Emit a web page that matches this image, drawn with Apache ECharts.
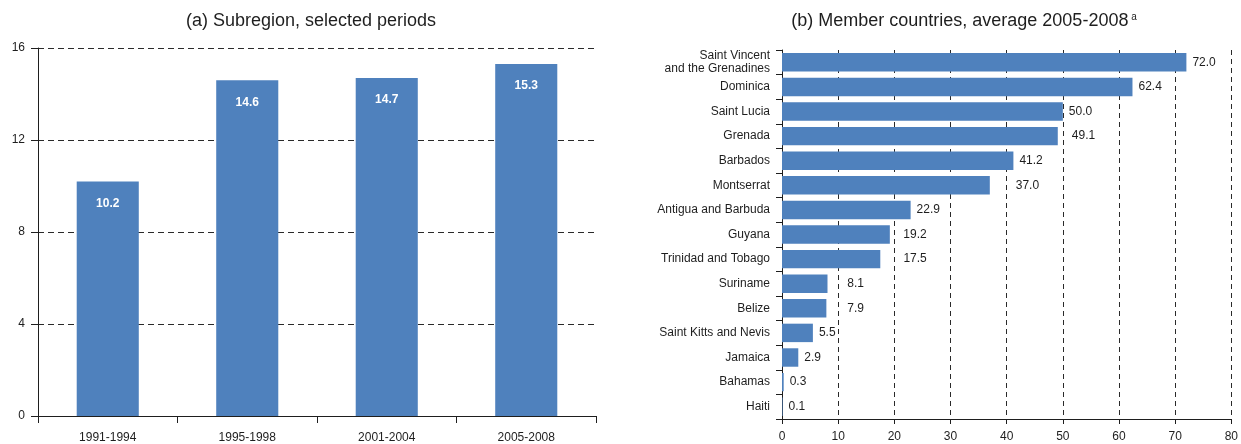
<!DOCTYPE html>
<html>
<head>
<meta charset="utf-8">
<script src="https://cdn.jsdelivr.net/npm/echarts@6/dist/echarts.min.js"></script>
<style>
  html, body { margin: 0; padding: 0; background: #fff; }
  #chart { width: 1241px; height: 444px; }
</style>
</head>
<body>
<div id="chart"></div>
<script>
// (a) Subregion, selected periods
const periods = ['1991-1994', '1995-1998', '2001-2004', '2005-2008'];
const subregionValues = [10.2, 14.6, 14.7, 15.3];
const periodTicks = [0, 4, 8, 12, 16];

// (b) Member countries, average 2005-2008
const countries = [
  'Saint Vincent\nand the Grenadines', 'Dominica', 'Saint Lucia', 'Grenada',
  'Barbados', 'Montserrat', 'Antigua and Barbuda', 'Guyana',
  'Trinidad and Tobago', 'Suriname', 'Belize', 'Saint Kitts and Nevis',
  'Jamaica', 'Bahamas', 'Haiti'
];
const countryValues = [72.0, 62.4, 50.0, 49.1, 41.2, 37.0, 22.9, 19.2, 17.5, 8.1, 7.9, 5.5, 2.9, 0.3, 0.1];
const countryTicks = [0, 10, 20, 30, 40, 50, 60, 70, 80];

const BAR = '#4f81bd';
const INK = '#1e1e1e';
const FONT = '"Liberation Sans", Arial, Helvetica, sans-serif';

// right-panel geometry, used to keep value labels clear of the dashed grid lines
const G1 = { left: 782, top: 50, width: 452, height: 369 };
const xMax = countryTicks[countryTicks.length - 1];
const xStep = countryTicks[1] - countryTicks[0];
const pxPerUnit = G1.width / xMax;

function textWidth(s) {
  // approximate advance widths at 12px
  let w = 0;
  for (const ch of s) w += (ch === '.' ? 3.34 : 6.67);
  return w;
}

function labelDistance(v) {
  const text = v.toFixed(1);
  const w = textWidth(text);
  const barEnd = v * pxPerUnit;
  let start = barEnd + 6;
  for (let g = xStep; g <= xMax; g += xStep) {
    const gx = g * pxPerUnit;
    if (gx >= start - 3 && gx <= start + w + 1) { start = gx + 9; break; }
  }
  return start - barEnd;
}

const countryData = countryValues.map(v => ({ value: v, label: { distance: labelDistance(v) } }));

const chart = echarts.init(document.getElementById('chart'), null, { renderer: 'canvas' });

chart.setOption({
  animation: false,
  textStyle: { fontFamily: FONT },
  title: [
    {
      text: '(a) Subregion, selected periods',
      left: 306, top: 7, textAlign: 'center',
      textStyle: { fontFamily: FONT, fontSize: 18, fontWeight: 'normal', color: INK }
    },
    {
      text: '(b) Member countries, average 2005-2008{sup| a}',
      left: 959, top: 7, textAlign: 'center',
      textStyle: {
        fontFamily: FONT, fontSize: 18, fontWeight: 'normal', color: INK,
        rich: { sup: { fontSize: 10, verticalAlign: 'top', padding: [0, 0, 8, 0], color: INK, fontFamily: FONT } }
      }
    }
  ],
  grid: [
    { left: 38, top: 48, width: 558, height: 369 },
    { left: G1.left, top: G1.top, width: G1.width, height: G1.height }
  ],
  xAxis: [
    {
      gridIndex: 0, type: 'category', data: periods,
      axisLine: { lineStyle: { color: INK, width: 1 } },
      axisTick: { show: true, length: 7, lineStyle: { color: INK } },
      axisLabel: { color: INK, fontSize: 12, margin: 16, fontFamily: FONT }
    },
    {
      gridIndex: 1, type: 'value', min: 0, max: xMax, interval: xStep,
      axisLine: { show: true, lineStyle: { color: INK, width: 1 } },
      axisTick: { show: true, length: 5, lineStyle: { color: INK } },
      axisLabel: { color: INK, fontSize: 12, margin: 12, fontFamily: FONT },
      splitLine: { show: true, lineStyle: { color: '#2a2a2a', type: [5, 4], width: 1 } }
    }
  ],
  yAxis: [
    {
      gridIndex: 0, type: 'value', min: periodTicks[0], max: periodTicks[periodTicks.length - 1],
      interval: periodTicks[1] - periodTicks[0],
      axisLine: { show: true, lineStyle: { color: INK, width: 1 } },
      axisTick: { show: true, length: 7, lineStyle: { color: INK } },
      axisLabel: { color: INK, fontSize: 12, margin: 13, fontFamily: FONT },
      splitLine: { show: true, lineStyle: { color: '#2a2a2a', type: [6, 4], width: 1 } }
    },
    {
      gridIndex: 1, type: 'category', data: countries, inverse: true,
      axisLine: { show: true, lineStyle: { color: INK, width: 1 } },
      axisTick: { show: true, length: 6, lineStyle: { color: INK } },
      axisLabel: { color: INK, fontSize: 12, lineHeight: 13, margin: 12, fontFamily: FONT }
    }
  ],
  series: [
    {
      type: 'bar', xAxisIndex: 0, yAxisIndex: 0, data: subregionValues,
      barCategoryGap: '55.5%',
      itemStyle: { color: BAR },
      label: {
        show: true, position: 'insideTop', distance: 16,
        color: '#fff', fontWeight: 'bold', fontSize: 12, fontFamily: FONT,
        formatter: p => p.value.toFixed(1)
      }
    },
    {
      type: 'bar', xAxisIndex: 1, yAxisIndex: 1, data: countryData,
      barCategoryGap: '25%',
      itemStyle: { color: BAR },
      label: {
        show: true, position: 'right',
        color: INK, fontSize: 12, fontFamily: FONT,
        formatter: p => p.value.toFixed(1)
      }
    }
  ]
});
</script>
</body>
</html>
